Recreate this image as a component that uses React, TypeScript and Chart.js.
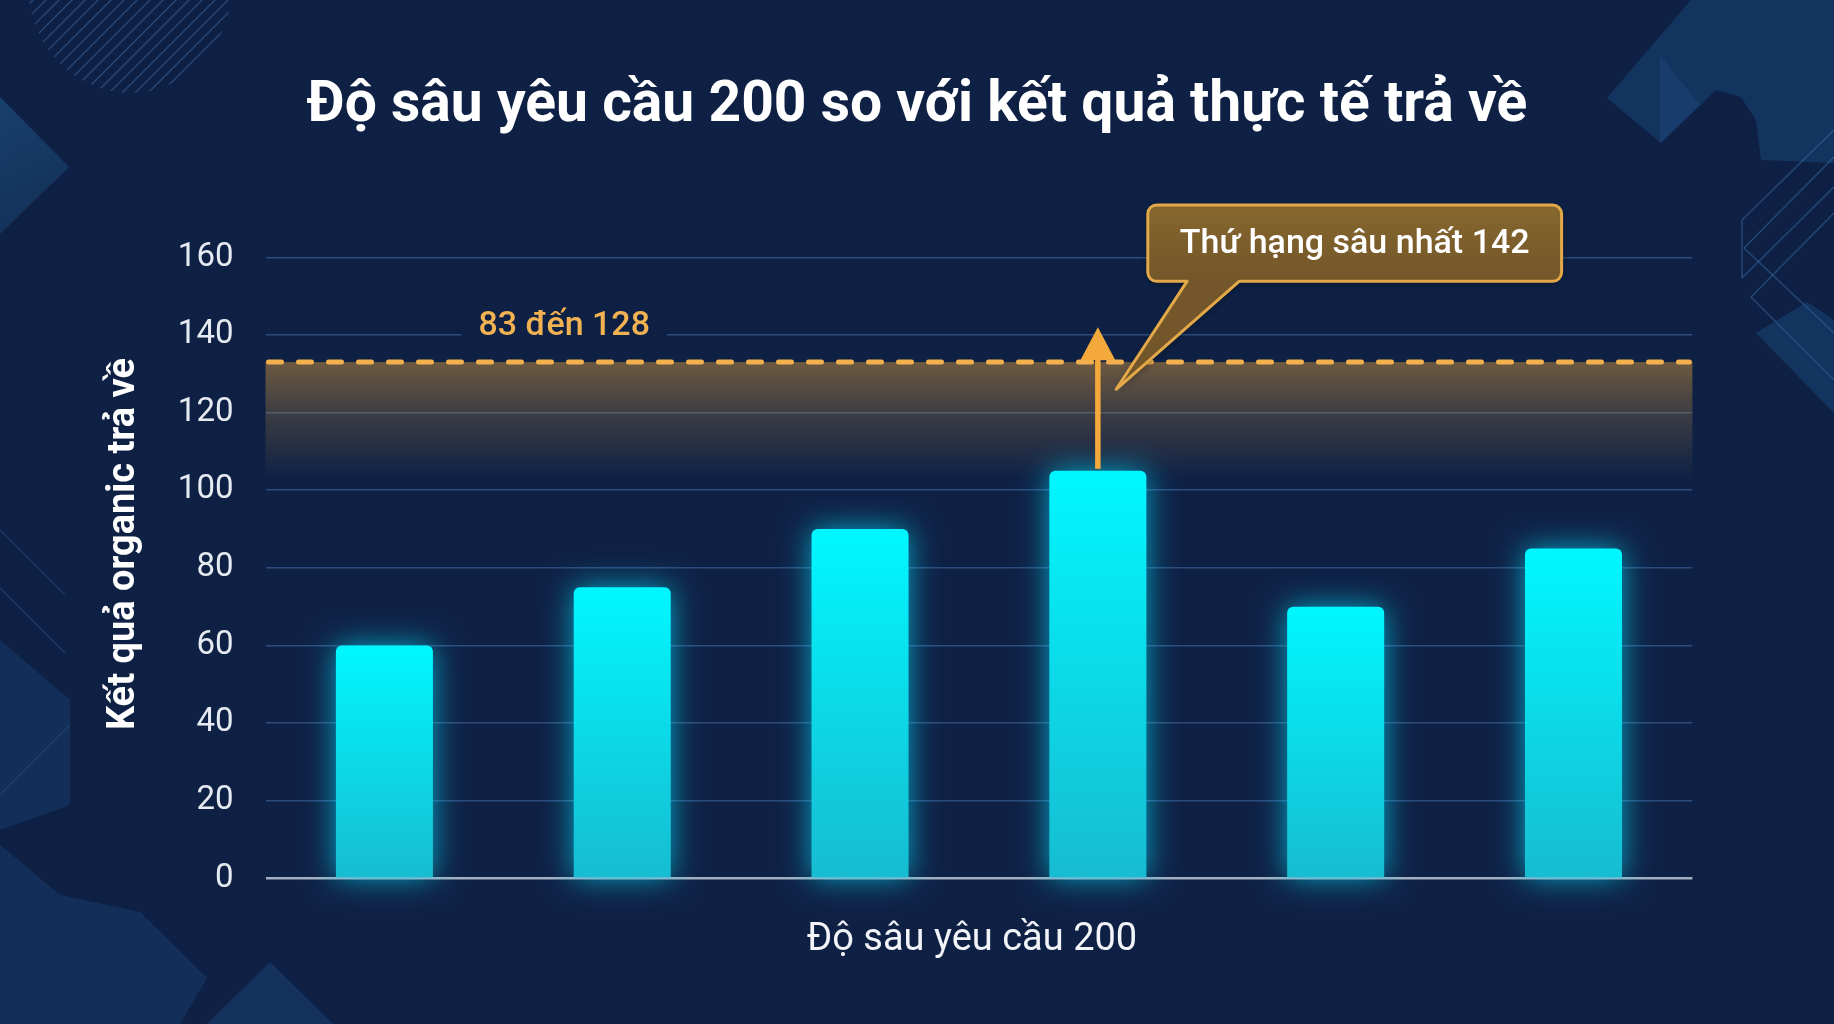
import React, { useEffect, useRef } from 'react';
import { Chart, registerables } from 'chart.js';

Chart.register(...registerables);

// ---------------- data ----------------
const categories = ['Truy vấn 1', 'Truy vấn 2', 'Truy vấn 3', 'Truy vấn 4', 'Truy vấn 5', 'Truy vấn 6'];
const organicResults = [60, 75, 90, 105, 70, 85];
const yTickValues = [0, 20, 40, 60, 80, 100, 120, 140, 160];
const chartTitle = 'Độ sâu yêu cầu 200 so với kết quả thực tế trả về';
const xAxisTitle = 'Độ sâu yêu cầu 200';
const yAxisTitle = 'Kết quả organic trả về';
const rangeLabel = '83 đến 128';
const rangeLineValue = 133;
const rangeFadeValue = 103;
const rangeLabelValue = 140;
const deepestIndex = 3;
const deepestRank = 142;
const calloutText = 'Thứ hạng sâu nhất 142';
const calloutTipValue = 126;

// ---------------- style ----------------
const BG = '#0E2145';
const AMBER = '#F4A93C';
const FONT = 'Roboto, "Noto Sans", sans-serif';

const decorPlugin = {
  id: 'decor',
  beforeDraw(chart: any) {
    const { ctx, width, height } = chart;
    ctx.save();
    ctx.fillStyle = BG;
    ctx.fillRect(0, 0, width, height);
    const fillPoly = (pts: number[][], color: string | CanvasGradient) => {
      ctx.beginPath();
      pts.forEach(([x, y], i) => (i ? ctx.lineTo(x, y) : ctx.moveTo(x, y)));
      ctx.closePath();
      ctx.fillStyle = color;
      ctx.fill();
    };
    const line = (a: number[], b: number[], color: string, w = 1.5) => {
      ctx.beginPath();
      ctx.moveTo(a[0], a[1]);
      ctx.lineTo(b[0], b[1]);
      ctx.strokeStyle = color;
      ctx.lineWidth = w;
      ctx.stroke();
    };
    // top-left hatch
    ctx.save();
    ctx.beginPath();
    ctx.ellipse(130, -15, 102, 108, 0, 0, Math.PI * 2);
    ctx.clip();
    for (let i = 0; i < 22; i++) {
      const x0 = 20 + i * 13;
      line([x0 - 110, 110], [x0 + 10, -10], 'rgba(90,140,205,0.35)', 1.5);
    }
    ctx.restore();
    // left triangle
    const g1 = ctx.createLinearGradient(0, 100, 70, 230);
    g1.addColorStop(0, 'rgba(35,95,150,0.5)');
    g1.addColorStop(1, 'rgba(30,80,130,0.3)');
    fillPoly([[0, 97], [69, 167], [0, 234]], g1);
    // left lines / shapes
    line([0, 530], [65, 595], 'rgba(60,110,170,0.3)');
    line([0, 588], [65, 653], 'rgba(60,110,170,0.3)');
    fillPoly([[0, 640], [70, 700], [70, 805], [0, 830]], 'rgba(35,90,150,0.25)');
    line([70, 725], [0, 795], 'rgba(60,110,170,0.3)');
    fillPoly([[0, 845], [60, 895], [140, 912], [207, 978], [180, 1024], [0, 1024]], 'rgba(35,90,150,0.25)');
    fillPoly([[207, 1024], [270, 962], [333, 1024]], 'rgba(35,90,150,0.3)');
    // top-right shapes
    fillPoly([[1691, 0], [1607, 98], [1661, 143], [1716, 90], [1741, 97], [1756, 120], [1761, 160], [1834, 163], [1834, 0]], 'rgba(35,95,160,0.3)');
    fillPoly([[1660, 55], [1660, 143], [1700, 105]], 'rgba(45,110,175,0.15)');
    const oc = 'rgba(70,130,195,0.4)';
    line([1742, 220], [1742, 278], oc);
    line([1742, 220], [1834, 130], oc);
    line([1744, 248], [1834, 157], oc);
    line([1742, 278], [1834, 187], oc);
    line([1744, 248], [1834, 333], oc);
    line([1751, 297], [1834, 213], oc);
    line([1751, 297], [1834, 380], oc);
    fillPoly([[1756, 333], [1807, 302], [1834, 320], [1834, 413]], 'rgba(35,95,160,0.3)');
    ctx.restore();
  },
};

const glowPlugin = {
  id: 'glow',
  beforeDatasetDraw(chart: any) {
    const ctx = chart.ctx;
    ctx.save();
    ctx.shadowColor = 'rgba(0,225,255,0.7)';
    ctx.shadowBlur = 30;
  },
  afterDatasetDraw(chart: any) {
    chart.ctx.restore();
  },
};

const bandPlugin = {
  id: 'band',
  beforeDatasetsDraw(chart: any) {
    const { ctx, chartArea, scales } = chart;
    const ys = scales.y;
    const top = ys.getPixelForValue(rangeLineValue);
    const bottom = ys.getPixelForValue(rangeFadeValue);
    if (!isFinite(top) || !isFinite(bottom)) return;
    const g = ctx.createLinearGradient(0, top, 0, bottom);
    g.addColorStop(0, 'rgba(205,145,60,0.5)');
    g.addColorStop(0.45, 'rgba(205,145,60,0.24)');
    g.addColorStop(1, 'rgba(205,145,60,0)');
    ctx.save();
    ctx.fillStyle = g;
    ctx.fillRect(chartArea.left, top, chartArea.right - chartArea.left, bottom - top);
    ctx.restore();
  },
};

const annotationPlugin = {
  id: 'annot',
  afterDatasetsDraw(chart: any) {
    const { ctx, chartArea, scales } = chart;
    const xs = scales.x;
    const ys = scales.y;
    ctx.save();
    // dashed range line
    const yl = ys.getPixelForValue(rangeLineValue);
    ctx.beginPath();
    ctx.setLineDash([13, 17]);
    ctx.lineCap = 'round';
    ctx.lineWidth = 5;
    ctx.strokeStyle = '#F2B04E';
    ctx.moveTo(chartArea.left + 3, yl);
    ctx.lineTo(chartArea.right - 3, yl);
    ctx.stroke();
    ctx.setLineDash([]);

    // range label with background (cuts the 140 gridline)
    ctx.font = `500 34px ${FONT}`;
    const lx = xs.getPixelForValue(0.756);
    const ly = ys.getPixelForValue(rangeLabelValue);
    const tw = ctx.measureText(rangeLabel).width;
    ctx.fillStyle = BG;
    ctx.fillRect(lx - tw / 2 - 17, ly - 30, tw + 34, 40);
    ctx.fillStyle = '#F2B251';
    ctx.textAlign = 'center';
    ctx.textBaseline = 'alphabetic';
    ctx.fillText(rangeLabel, lx, ly);

    // arrow from deepest bar up to rank value
    const ax = xs.getPixelForValue(deepestIndex);
    const aBottom = ys.getPixelForValue(organicResults[deepestIndex]);
    const aTip = ys.getPixelForValue(deepestRank);
    ctx.strokeStyle = AMBER;
    ctx.fillStyle = AMBER;
    ctx.lineWidth = 5.5;
    ctx.lineCap = 'butt';
    ctx.beginPath();
    ctx.moveTo(ax, aBottom - 2);
    ctx.lineTo(ax, aTip + 30);
    ctx.stroke();
    ctx.beginPath();
    ctx.moveTo(ax, aTip);
    ctx.lineTo(ax + 17.5, aTip + 33);
    ctx.lineTo(ax - 17.5, aTip + 33);
    ctx.closePath();
    ctx.fill();

    // callout
    const bl = xs.getPixelForValue(deepestIndex + 0.21);
    const br = xs.getPixelForValue(deepestIndex + 1.95);
    const bt = ys.getPixelForValue(173.5);
    const bb = ys.getPixelForValue(153.8);
    const pL = xs.getPixelForValue(deepestIndex + 0.375);
    const pR = xs.getPixelForValue(deepestIndex + 0.594);
    const tipX = xs.getPixelForValue(deepestIndex + 0.077);
    const tipY = ys.getPixelForValue(calloutTipValue);
    const r = 9;
    ctx.beginPath();
    ctx.moveTo(bl + r, bt);
    ctx.lineTo(br - r, bt);
    ctx.arcTo(br, bt, br, bt + r, r);
    ctx.lineTo(br, bb - r);
    ctx.arcTo(br, bb, br - r, bb, r);
    ctx.lineTo(pR, bb);
    ctx.lineTo(tipX, tipY);
    ctx.lineTo(pL, bb);
    ctx.lineTo(bl + r, bb);
    ctx.arcTo(bl, bb, bl, bb - r, r);
    ctx.lineTo(bl, bt + r);
    ctx.arcTo(bl, bt, bl + r, bt, r);
    ctx.closePath();
    const cg = ctx.createLinearGradient(0, bt, 0, bb);
    cg.addColorStop(0, '#86672F');
    cg.addColorStop(1, '#735629');
    ctx.save();
    ctx.shadowColor = 'rgba(0,0,0,0.45)';
    ctx.shadowBlur = 8;
    ctx.shadowOffsetY = 2;
    ctx.fillStyle = cg;
    ctx.fill();
    ctx.restore();
    ctx.lineWidth = 3;
    ctx.lineJoin = 'round';
    ctx.strokeStyle = '#E3A948';
    ctx.stroke();
    ctx.fillStyle = '#FFFFFF';
    ctx.font = `500 34px ${FONT}`;
    ctx.textAlign = 'center';
    ctx.textBaseline = 'middle';
    ctx.fillText(calloutText, (bl + br) / 2, (bt + bb) / 2 + 1);
    ctx.restore();
  },
  afterDraw(chart: any) {
    const { ctx, chartArea, width } = chart;
    ctx.save();
    ctx.fillStyle = '#FFFFFF';
    ctx.textAlign = 'center';
    ctx.textBaseline = 'alphabetic';
    ctx.font = `bold 57px ${FONT}`;
    ctx.fillText(chartTitle, width / 2, 121);
    ctx.fillStyle = '#F2F4F8';
    ctx.font = `400 38px ${FONT}`;
    ctx.fillText(xAxisTitle, (chartArea.left + chartArea.right) / 2 - 7, 950);
    ctx.save();
    ctx.translate(134, 544);
    ctx.rotate(-Math.PI / 2);
    ctx.font = `bold 38px ${FONT}`;
    ctx.fillStyle = '#FFFFFF';
    ctx.fillText(yAxisTitle, 0, 0);
    ctx.restore();
    ctx.restore();
  },
};

export default function App() {
  const ref = useRef<HTMLCanvasElement>(null);
  useEffect(() => {
    const canvas = ref.current!;
    const chart = new Chart(canvas, {
      type: 'bar',
      data: {
        labels: categories,
        datasets: [
          {
            label: yAxisTitle,
            data: organicResults,
            backgroundColor: (c: any) => {
              const ch = c.chart;
              const ys = ch.scales?.y;
              if (!ys || c.raw == null) return '#06E6F5';
              const top = ys.getPixelForValue(c.raw);
              const bot = ys.getPixelForValue(0);
              if (!isFinite(top) || !isFinite(bot) || top === bot) return '#06E6F5';
              const g = ch.ctx.createLinearGradient(0, top, 0, bot);
              g.addColorStop(0, '#00F7FF');
              g.addColorStop(1, '#17BCD1');
              return g;
            },
            borderWidth: 0,
            borderSkipped: 'bottom',
            borderRadius: { topLeft: 6, topRight: 6, bottomLeft: 0, bottomRight: 0 },
            categoryPercentage: 1,
            barPercentage: 0.408,
            clip: false as any,
          },
        ],
      },
      options: {
        animation: false,
        responsive: true,
        maintainAspectRatio: false,
        layout: { padding: { top: 257.3, right: 141.6, bottom: 145.6, left: 0 } },
        plugins: {
          legend: { display: false },
          title: { display: false },
          tooltip: { enabled: false },
        },
        scales: {
          x: {
            type: 'category',
            grid: { display: false, drawTicks: false },
            border: { display: false },
            ticks: { display: false },
            afterFit: (s: any) => {
              s.height = 0;
            },
          },
          y: {
            min: 0,
            max: 160,
            afterBuildTicks: (s: any) => {
              s.ticks = yTickValues.map((v) => ({ value: v }));
            },
            grid: {
              drawTicks: false,
              color: (c: any) => (c.tick && c.tick.value === 0 ? '#A3AEC2' : 'rgba(75,120,180,0.5)'),
              lineWidth: (c: any) => (c.tick && c.tick.value === 0 ? 2.5 : 1.5),
            },
            border: { display: false },
            ticks: {
              color: '#E6EAF1',
              font: { family: FONT, size: 33, weight: 400 as any },
              padding: 32,
              callback: (v: any) => String(v),
            },
            afterFit: (s: any) => {
              s.width = 265.5;
            },
          },
        },
      },
      plugins: [decorPlugin, bandPlugin, glowPlugin, annotationPlugin],
    });
    return () => chart.destroy();
  }, []);
  return (
    <div style={{ position: 'absolute', left: 0, top: 0, width: 1834, height: 1024, background: BG }}>
      <canvas ref={ref} />
    </div>
  );
}
